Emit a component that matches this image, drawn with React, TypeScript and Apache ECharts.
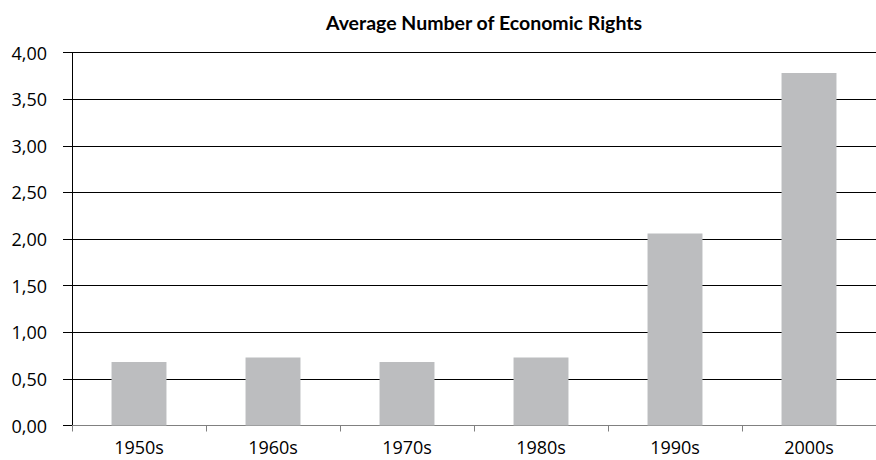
import React, { useEffect, useRef } from "react";
import * as echarts from "echarts";

const categories = ["1950s", "1960s", "1970s", "1980s", "1990s", "2000s"];
const values = [0.68, 0.73, 0.68, 0.73, 2.06, 3.78];
const titleText = "Average Number of Economic Rights";

export default function App() {
  const ref = useRef<HTMLDivElement>(null);
  useEffect(() => {
    if (!ref.current) return;
    const chart = echarts.init(ref.current, null, { renderer: "svg" });
    chart.setOption({
      animation: false,
      title: {
        text: titleText,
        left: 479,
        textAlign: "center",
        top: 7,
        textStyle: { fontFamily: "Lato", fontWeight: "bold", fontSize: 19.5, color: "#000" },
      },
      grid: { left: 72, right: 0, top: 52.5, bottom: 34.5, containLabel: false },
      xAxis: {
        type: "category",
        data: categories,
        axisLine: { lineStyle: { color: "#808080", width: 1 } },
        axisTick: { show: true, length: 6, lineStyle: { color: "#808080" }, alignWithLabel: false },
        axisLabel: { fontFamily: "Open Sans", fontSize: 18, color: "#000", margin: 12 },
      },
      yAxis: {
        type: "value",
        min: 0,
        max: 4,
        interval: 0.5,
        axisLine: { show: true, lineStyle: { color: "#000", width: 1 } },
        axisTick: { show: true, inside: false, length: 9, lineStyle: { color: "#000" } },
        splitLine: { show: true, lineStyle: { color: "#000", width: 1 } },
        axisLabel: {
          fontFamily: "Open Sans",
          fontSize: 18,
          color: "#000",
          margin: 25,
          formatter: (v: number) => v.toFixed(2).replace(".", ","),
        },
      },
      series: [
        {
          type: "bar",
          data: values,
          barWidth: "41%",
          itemStyle: { color: "#BCBDBF" },
        },
      ],
    });
    return () => chart.dispose();
  }, []);
  return <div ref={ref} style={{ width: 876, height: 460, position: "absolute", left: 0, top: 0 }} />;
}
